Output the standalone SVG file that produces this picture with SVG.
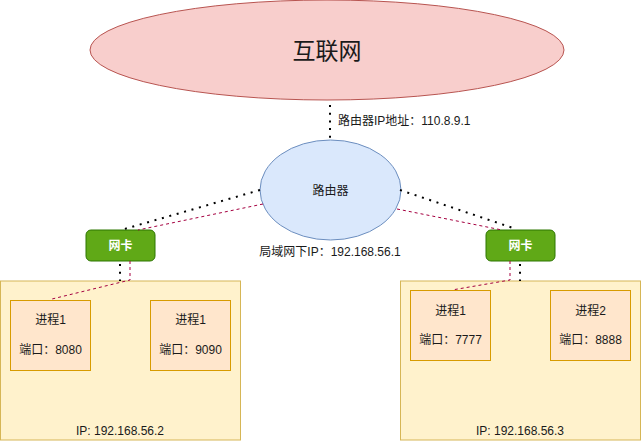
<svg xmlns="http://www.w3.org/2000/svg" width="641" height="441" viewBox="0 0 641 441">
<style>
text{font-family:"Liberation Sans","Noto Sans CJK SC",sans-serif;font-size:12px;fill:#1a1a1a;text-anchor:middle}
.host{fill:#fff2cc;stroke:#d6b656;stroke-width:1}
.proc{fill:#ffe6cc;stroke:#d79b00;stroke-width:1}
.nic{fill:#60a917;stroke:#2d7600;stroke-width:1}
.nict{fill:#ffffff;font-weight:bold}
.dot{fill:none;stroke:#000;stroke-width:2;stroke-dasharray:2 5.7}
.red{fill:none;stroke:#a50040;stroke-width:1;stroke-dasharray:3 3}
</style>
<rect width="641" height="441" fill="#ffffff"/>
<g id="internet">
<ellipse cx="327" cy="50" rx="237" ry="50" fill="#f8cecc" stroke="#b85450"/>
<text x="327" y="59" style="font-size:23px">互联网</text>
</g>
<g id="router">
<ellipse cx="330.5" cy="190" rx="70.5" ry="50" fill="#dae8fc" stroke="#6c8ebf"/>
<text x="330.5" y="195">路由器</text>
</g>
<g id="host-left">
<rect class="host" x="0.5" y="281" width="240" height="159"/>
<text x="120" y="435">IP: 192.168.56.2</text>
</g>
<g id="host-right">
<rect class="host" x="400.5" y="281" width="240" height="159"/>
<text x="520" y="435">IP: 192.168.56.3</text>
</g>
<g id="nic-left">
<rect class="nic" x="86" y="230" width="69" height="31" rx="5"/>
<text class="nict" x="120.5" y="250">网卡</text>
</g>
<g id="nic-right">
<rect class="nic" x="486" y="230" width="69" height="31" rx="5"/>
<text class="nict" x="520.5" y="250">网卡</text>
</g>
<g id="proc-l1">
<rect class="proc" x="10.5" y="300.5" width="80" height="70"/>
<text x="50.5" y="324">进程1</text>
<text x="50.5" y="354">端口：8080</text>
</g>
<g id="proc-l2">
<rect class="proc" x="150.5" y="300.5" width="80" height="70"/>
<text x="190.5" y="324">进程1</text>
<text x="190.5" y="354">端口：9090</text>
</g>
<g id="proc-r1">
<rect class="proc" x="410.5" y="290.5" width="80" height="70"/>
<text x="450.5" y="315">进程1</text>
<text x="450.5" y="344">端口：7777</text>
</g>
<g id="proc-r2">
<rect class="proc" x="550.5" y="290.5" width="80" height="70"/>
<text x="590.5" y="315">进程2</text>
<text x="590.5" y="344">端口：8888</text>
</g>
<g id="connectors">
<line class="dot" x1="330" y1="105" x2="330" y2="140"/>
<line class="dot" x1="260" y1="190" x2="121" y2="230"/>
<line class="dot" x1="400" y1="190" x2="516" y2="229"/>
<line class="red" x1="263" y1="204" x2="138" y2="230"/>
<line class="red" x1="397" y1="209" x2="502" y2="230"/>
<line class="dot" x1="120" y1="264" x2="120" y2="281"/>
<line class="dot" x1="520" y1="264" x2="520" y2="281"/>
<polyline class="red" points="130,261 130,280 52,299"/>
<polyline class="red" points="510,261 510,280 452,290"/>
</g>
<g id="labels">
<text x="338" y="125" style="text-anchor:start">路由器IP地址：110.8.9.1</text>
<text x="330" y="256">局域网下IP：192.168.56.1</text>
</g>
</svg>
